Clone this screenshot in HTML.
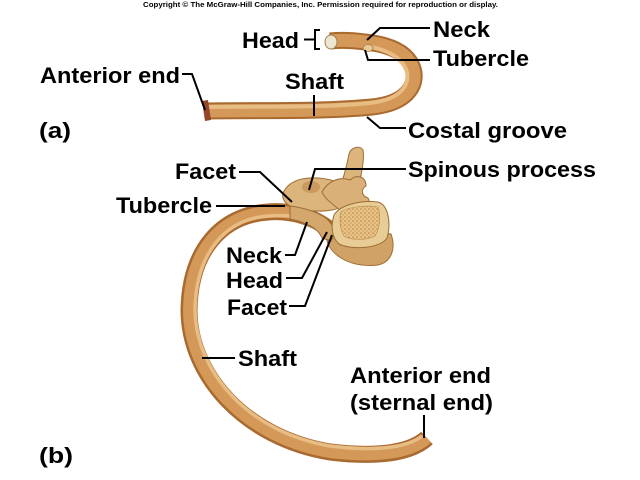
<!DOCTYPE html>
<html><head><meta charset="utf-8">
<style>
html,body{margin:0;padding:0;background:#fff;}
svg{display:block;}
text{font-family:"Liberation Sans",Arial,sans-serif;font-weight:bold;fill:#000;}
.l{font-size:22px;}
.ld{fill:none;stroke:#000;stroke-width:2;}
</style></head>
<body>
<svg width="640" height="480" viewBox="0 0 640 480" xmlns="http://www.w3.org/2000/svg">
<defs>
<pattern id="dots" width="4" height="4" patternUnits="userSpaceOnUse">
<rect width="4" height="4" fill="#e6c386"/>
<circle cx="1" cy="1" r="0.8" fill="#c27f42"/>
<circle cx="3" cy="3" r="0.7" fill="#cf9455"/>
</pattern>
</defs>

<text x="143" y="7" font-size="7" textLength="355" lengthAdjust="spacingAndGlyphs">Copyright © The McGraw-Hill Companies, Inc. Permission required for reproduction or display.</text>

<!-- Rib (a) -->
<g fill="none" stroke-linecap="butt">
<path d="M 205 111 C 260 110, 320 112, 372 107 C 410 103, 419 82, 412 66 C 405 50, 385 44, 365 42 C 350 40, 340 40, 330 41" stroke="#a96a30" stroke-width="17"/>
<path d="M 205 111 C 260 110, 320 112, 372 107 C 410 103, 419 82, 412 66 C 405 50, 385 44, 365 42 C 350 40, 340 40, 330 41" stroke="#d49858" stroke-width="13"/>
<path d="M 207 107 C 260 106, 320 108, 370 103 C 404 99, 411 82, 406 69 C 400 56, 385 49, 365 46" stroke="#e8bd84" stroke-width="4"/>
</g>
<path d="M 202 101 L 208 100 L 211 120 L 205 121 Z" fill="#94462a"/>
<ellipse cx="368" cy="48" rx="5" ry="3.5" fill="#e8cc9a" stroke="#a87a40" stroke-width="0.8"/>
<ellipse cx="331" cy="42" rx="6" ry="7" fill="#ece6d2" stroke="#a08050" stroke-width="1"/>

<!-- Rib (b) -->
<g fill="none" stroke-linecap="butt">
<path d="M 332 232 C 318 218, 292 210, 268 212 C 222 215, 190 250, 189 310 C 189 375, 245 438, 330 452 C 380 458, 412 452, 427 438" stroke="#a96a30" stroke-width="17"/>
<path d="M 332 232 C 318 218, 292 210, 268 212 C 222 215, 190 250, 189 310 C 189 375, 245 438, 330 452 C 380 458, 412 452, 427 438" stroke="#d49858" stroke-width="12"/>
<path d="M 326 228 C 314 218, 292 214, 268 216 C 226 219, 196 252, 195 310 C 196 372, 248 432, 330 446 C 378 452, 408 447, 422 436" stroke="#e8bd84" stroke-width="3.5"/>
</g>

<!-- Vertebra -->
<g stroke="#9c6c34" stroke-width="1">
<path d="M 326 236 C 328 255, 350 268, 378 265 C 392 262, 396 248, 391 234 L 360 230 Z" fill="#d0a266"/>
<path d="M 338 192 C 343 180, 347 165, 349 154 C 351 147, 360 145, 363 150 C 365 160, 360 178, 358 194 Z" fill="#dcb57c"/>
<path d="M 283 193 C 288 182, 300 177, 318 178 C 335 179, 350 186, 349 200 C 345 210, 325 213, 302 210 C 290 208, 281 202, 283 193 Z" fill="#dcb57c"/>
<ellipse cx="311" cy="187" rx="9" ry="6" fill="#c99a5c" stroke="none"/>
<path d="M 322 192 C 328 181, 340 176, 350 180 C 356 174, 366 176, 366 186 C 360 190, 362 196, 368 198 C 372 204, 366 210, 356 211 L 343 213 C 336 206, 325 200, 322 192 Z" fill="#d8b078"/>
<path d="M 290 206 C 305 208, 318 212, 327 219 C 334 226, 337 234, 331 241 L 322 238 C 318 228, 305 222, 290 219 Z" fill="#d4a86c"/>
<path d="M 334 215 C 340 205, 360 200, 378 202 C 389 205, 391 225, 387 238 C 380 249, 350 250, 339 244 C 331 237, 331 225, 334 215 Z" fill="#e8cc96"/>
<path d="M 341 212 C 350 206, 368 205, 378 207 C 381 215, 380 228, 375 236 C 365 241, 350 240, 344 236 C 340 229, 339 220, 341 212 Z" fill="url(#dots)" stroke="#b8874a" stroke-width="0.6"/>
</g>

<!-- Leaders (a) -->
<path class="ld" d="M 304 39.5 L 315 39.5 M 320 30 L 315 30 L 315 49 L 320 49"/>
<path class="ld" d="M 430 28 L 380 28 L 367 40"/>
<path class="ld" d="M 430 60 L 368 60 L 365 50"/>
<path class="ld" d="M 314 95 L 314 116"/>
<path class="ld" d="M 406 128 L 380 128 L 367 117"/>
<path class="ld" d="M 182 74 L 192 74 L 205 110"/>

<!-- Leaders (b) -->
<path class="ld" d="M 239 172 L 260 172 L 292 202"/>
<path class="ld" d="M 406 169 L 315 169 L 309 190"/>
<path class="ld" d="M 216 206 L 285 206"/>
<path class="ld" d="M 285 255 L 295 255 L 307 222"/>
<path class="ld" d="M 286 278 L 302 278 L 327 232"/>
<path class="ld" d="M 289 306 L 305 306 L 332 235"/>
<path class="ld" d="M 202 358 L 235 358"/>
<path class="ld" d="M 424 415 L 424 438"/>

<!-- Labels (a) -->
<text class="l" x="242" y="48" textLength="57" lengthAdjust="spacingAndGlyphs">Head</text>
<text class="l" x="433" y="37" textLength="57" lengthAdjust="spacingAndGlyphs">Neck</text>
<text class="l" x="433" y="66" textLength="96" lengthAdjust="spacingAndGlyphs">Tubercle</text>
<text class="l" x="285" y="89" textLength="59" lengthAdjust="spacingAndGlyphs">Shaft</text>
<text class="l" x="40" y="83" textLength="140" lengthAdjust="spacingAndGlyphs">Anterior end</text>
<text class="l" x="39" y="138" textLength="32" lengthAdjust="spacingAndGlyphs">(a)</text>
<text class="l" x="408" y="138" textLength="159" lengthAdjust="spacingAndGlyphs">Costal groove</text>

<!-- Labels (b) -->
<text class="l" x="175" y="179" textLength="61" lengthAdjust="spacingAndGlyphs">Facet</text>
<text class="l" x="408" y="177" textLength="188" lengthAdjust="spacingAndGlyphs">Spinous process</text>
<text class="l" x="116" y="213" textLength="96" lengthAdjust="spacingAndGlyphs">Tubercle</text>
<text class="l" x="226" y="263" textLength="56" lengthAdjust="spacingAndGlyphs">Neck</text>
<text class="l" x="226" y="288" textLength="57" lengthAdjust="spacingAndGlyphs">Head</text>
<text class="l" x="227" y="315" textLength="60" lengthAdjust="spacingAndGlyphs">Facet</text>
<text class="l" x="238" y="366" textLength="59" lengthAdjust="spacingAndGlyphs">Shaft</text>
<text class="l" x="350" y="383" textLength="141" lengthAdjust="spacingAndGlyphs">Anterior end</text>
<text class="l" x="350" y="410" textLength="143" lengthAdjust="spacingAndGlyphs">(sternal end)</text>
<text class="l" x="39" y="463" textLength="34" lengthAdjust="spacingAndGlyphs">(b)</text>
</svg>
</body></html>
